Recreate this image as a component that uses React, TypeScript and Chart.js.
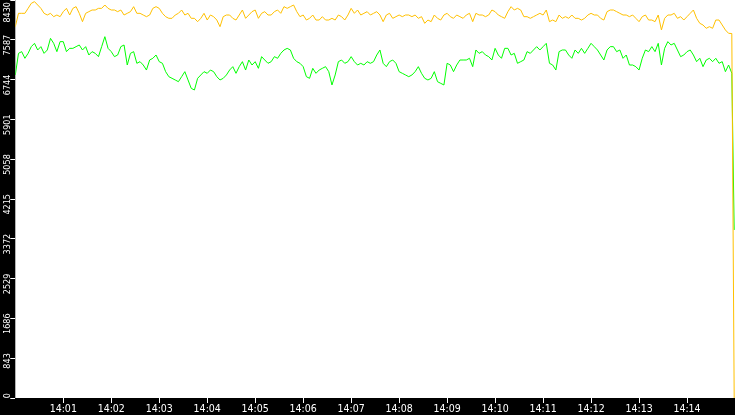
import { useEffect, useRef } from 'react';
import { Chart, registerables } from 'chart.js';

Chart.register(...registerables);

// one sample every STEP_SEC seconds from 14:00:00
const STEP_SEC = 4;
const X_MAX_SEC = 900;

const X_TICK_SEC = [60, 120, 180, 240, 300, 360, 420, 480, 540, 600, 660, 720, 780, 840];
const X_TICK_LABELS = [
  '14:01', '14:02', '14:03', '14:04', '14:05', '14:06', '14:07',
  '14:08', '14:09', '14:10', '14:11', '14:12', '14:13', '14:14',
];

const Y_MAX = 8430;
const Y_STEP = 843;

const YELLOW = [
  7865, 8148, 8148, 8148, 8253, 8359, 8395, 8324, 8253, 8148, 8112, 8148, 8077, 8112, 8077, 8183,
  8253, 8112, 8253, 8289, 8148, 7971, 8148, 8183, 8218, 8218, 8253, 8253, 8324, 8253, 8218, 8218,
  8183, 8218, 8112, 8148, 8183, 8289, 8148, 8148, 8112, 8077, 8112, 8253, 8289, 8253, 8148, 8077,
  8042, 8042, 8112, 8148, 8218, 8112, 8148, 8042,
  8042, 7971, 8042, 8148, 8006, 8112, 8077, 8006, 7865, 8077, 8112, 8112, 8042, 8006, 8112, 8218,
  8042, 8112, 8183, 8218, 8042, 8148, 8183, 8112, 8112, 8183, 8218, 8148, 8289, 8253, 8289, 8324,
  8183, 8077, 8112, 8006, 8042, 8112, 8006, 8006, 8077, 8006, 8006, 8042, 8006, 8112, 8077, 8006,
  8112, 8253, 8148, 8218, 8112, 8148, 8183, 8112,
  8148, 8183, 8112, 7971, 8112, 8148, 8042, 8077, 8112, 8077, 8112, 8112, 8077, 8112, 8042, 8077,
  7936, 8006, 7971, 8112, 8042, 8006, 8112, 8148, 8077, 8042, 8112, 8077, 8042, 8112, 8148, 7971,
  8148, 8112, 8112, 8077, 8112, 8218, 8183, 8112, 8077, 8042, 8183, 8289, 8218, 8253, 8218, 8077,
  8077, 8042, 8077, 8112, 8148, 8112, 8218, 7971,
  8006, 7971, 8112, 8042, 8077, 8042, 8112, 8042, 8042, 8006, 8042, 8112, 8148, 8112, 8112, 8042,
  8006, 8183, 8218, 8218, 8183, 8148, 8112, 8112, 8077, 8112, 8042, 7971, 8077, 8112, 8006, 8006,
  7971, 8112, 7795, 8042, 8112, 8112, 8148, 8042, 8077, 8006, 8077, 8148, 8218, 8042, 7936, 7901,
  7830, 7865, 7830, 8006, 8006, 7901, 7795, 7724,
];

const GREEN = [
  6842, 7300, 7336, 7195, 7300, 7442, 7512, 7371, 7442, 7300, 7371, 7618, 7512, 7336, 7548, 7548,
  7336, 7406, 7406, 7442, 7477, 7371, 7442, 7265, 7336, 7300, 7230, 7442, 7653, 7406, 7336, 7230,
  7265, 7442, 7477, 7053, 7300, 7336, 7089, 7124, 7053, 6947, 7159, 7195, 7265, 7124, 7089, 6912,
  6806, 6771, 6736, 6700, 6806, 6912, 6736, 6559,
  6524, 6771, 6842, 6912, 6877, 6947, 6912, 6806, 6736, 6771, 6842, 6947, 7018, 6877, 7018, 7124,
  6947, 7159, 7053, 7124, 6983, 7230, 7159, 7089, 7124, 7230, 7195, 7300, 7371, 7406, 7371, 7195,
  7124, 7089, 7018, 6806, 6771, 6983, 6877, 6947, 6983, 7018, 6912, 6630, 6842, 7124, 7159, 7089,
  7124, 7230, 7124, 7053, 7089, 7053, 7124, 7089,
  7124, 7265, 7371, 7089, 7018, 7124, 7159, 7089, 6912, 6877, 6842, 6806, 6842, 6912, 7018, 6877,
  6771, 6736, 6771, 6912, 6700, 6665, 6630, 7089, 7053, 6912, 7053, 7159, 7159, 7159, 7195, 7018,
  7371, 7300, 7336, 7265, 7230, 7159, 7406, 7265, 7195, 7406, 7406, 7265, 7300, 7089, 7124, 7159,
  7336, 7300, 7371, 7442, 7371, 7442, 7512, 7089,
  7053, 6947, 7336, 7371, 7371, 7265, 7195, 7371, 7300, 7406, 7300, 7406, 7512, 7442, 7371, 7265,
  7159, 7371, 7442, 7442, 7336, 7371, 7195, 7265, 7053, 7053, 7018, 6947, 7195, 7371, 7336, 7442,
  7336, 7512, 7053, 7406, 7548, 7477, 7512, 7371, 7230, 7265, 7336, 7371, 7265, 7124, 7195, 7018,
  7159, 7195, 7124, 7195, 7089, 7124, 6912, 7053,
];

// the feed drops away in the last second
const END_SEC = [896, 899];
const YELLOW_END = [7720, 0];
const GREEN_END = [6880, 3560];

const AXIS_FONT = "'DejaVu Sans Condensed', 'DejaVu Sans', sans-serif";

function toPoints(values: number[], endValues: number[]) {
  const pts = values.map((y, i) => ({ x: i * STEP_SEC, y }));
  END_SEC.forEach((x, i) => pts.push({ x, y: endValues[i] }));
  return pts;
}

const backgroundPlugin = {
  id: 'background',
  beforeDraw(chart: Chart) {
    const { ctx, chartArea, width, height } = chart;
    ctx.save();
    ctx.fillStyle = '#000000';
    ctx.fillRect(0, 0, width, height);
    ctx.fillStyle = '#FFFFFF';
    ctx.fillRect(chartArea.left, chartArea.top, chartArea.right - chartArea.left, chartArea.bottom - chartArea.top);
    ctx.restore();
  },
};

// rotated y labels sit a little above their tick, like the original
const nudged = new WeakSet<object>();
const nudgeYLabelsPlugin = {
  id: 'nudgeYLabels',
  beforeDraw(chart: Chart) {
    const scale: any = chart.scales.y;
    const items = scale.getLabelItems();
    items.forEach((item: any) => {
      if (nudged.has(item)) return;
      nudged.add(item);
      const t = item.options.translation;
      t[1] = Math.max(2, t[1] - 5);
    });
  },
};

export default function App() {
  const canvasRef = useRef<HTMLCanvasElement>(null);

  useEffect(() => {
    document.body.style.margin = '0';
    if (!canvasRef.current) return;

    const chart = new Chart(canvasRef.current, {
      type: 'line',
      data: {
        datasets: [
          {
            data: toPoints(YELLOW, YELLOW_END),
            borderColor: '#FFC000',
            borderWidth: 1,
            pointRadius: 0,
            tension: 0,
          },
          {
            data: toPoints(GREEN, GREEN_END),
            borderColor: '#00FF00',
            borderWidth: 1,
            pointRadius: 0,
            tension: 0,
          },
        ],
      },
      options: {
        responsive: true,
        maintainAspectRatio: false,
        animation: false,
        events: [],
        layout: { padding: 0 },
        plugins: {
          legend: { display: false },
          tooltip: { enabled: false },
        },
        scales: {
          x: {
            type: 'linear',
            min: 0,
            max: X_MAX_SEC,
            afterBuildTicks: (scale: any) => {
              scale.ticks = X_TICK_SEC.map((value) => ({ value }));
            },
            afterFit: (scale: any) => {
              scale.height = 17;
              scale.paddingLeft = 0;
              scale.paddingRight = 0;
            },
            grid: { drawOnChartArea: false, tickLength: 5, tickColor: '#FFFFFF', color: '#FFFFFF' },
            border: { display: false },
            ticks: {
              color: '#FFFFFF',
              padding: 0,
              autoSkip: false,
              maxRotation: 0,
              font: { family: AXIS_FONT, size: 10.5 },
              callback: (_v: any, i: number) => X_TICK_LABELS[i],
            },
          },
          y: {
            min: 0,
            max: Y_MAX,
            afterFit: (scale: any) => {
              scale.width = 15.3;
              scale.paddingTop = 0;
              scale.paddingBottom = 0;
            },
            grid: { drawOnChartArea: false, tickLength: 5, tickColor: '#FFFFFF', color: '#FFFFFF' },
            border: { display: false },
            ticks: {
              stepSize: Y_STEP,
              color: '#FFFFFF',
              padding: 3,
              autoSkip: false,
              minRotation: 90,
              maxRotation: 90,
              font: { family: AXIS_FONT, size: 9 },
              callback: (v: any) => String(v),
            },
          },
        },
      },
      plugins: [backgroundPlugin, nudgeYLabelsPlugin],
    });

    return () => chart.destroy();
  }, []);

  return (
    <div style={{ position: 'relative', width: 735, height: 415 }}>
      <canvas ref={canvasRef} />
    </div>
  );
}
